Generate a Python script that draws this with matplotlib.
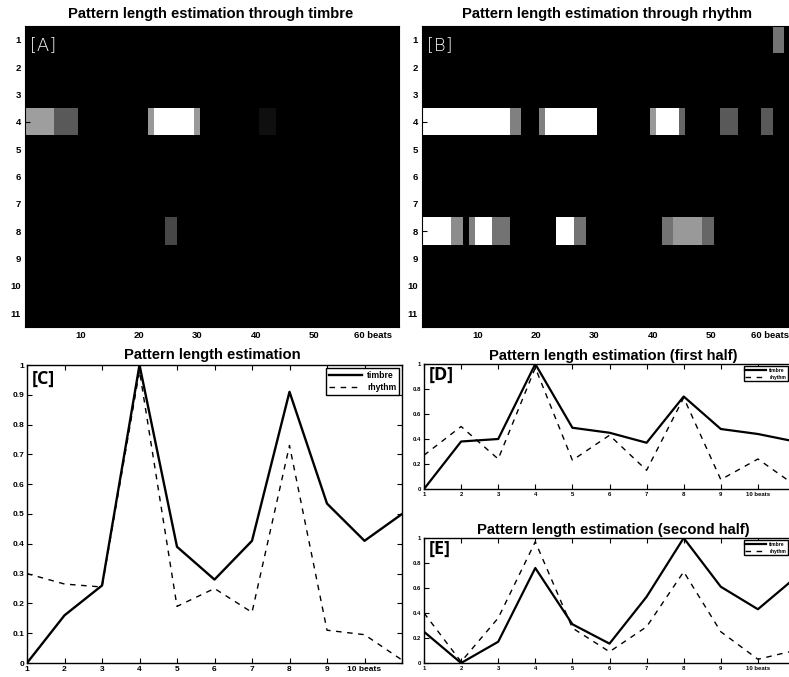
import numpy as np
import matplotlib
matplotlib.use("Agg")
import matplotlib.pyplot as plt

# ---------------------------------------------------------------- data
lags = [1, 2, 3, 4, 5, 6, 7, 8, 9, 10, 11]
lag_labels = ["1", "2", "3", "4", "5", "6", "7", "8", "9", "10 beats", ""]
n_beats = 64
beat_ticks = [10, 20, 30, 40, 50, 60]
beat_labels = ["10", "20", "30", "40", "50", "60 beats"]

# local pattern-length strength: (lag, first beat, last beat, strength)
timbre_blocks = [
    (4, 1, 5, 0.62), (4, 6, 9, 0.35),
    (4, 22, 22, 0.6), (4, 23, 29, 1.0), (4, 30, 30, 0.6),
    (4, 41, 43, 0.06),
    (8, 25, 26, 0.28),
]
rhythm_blocks = [
    (1, 61, 62, 0.45),
    (4, 1, 15, 1.0), (4, 16, 17, 0.5),
    (4, 21, 21, 0.5), (4, 22, 30, 1.0),
    (4, 40, 40, 0.6), (4, 41, 44, 1.0), (4, 45, 45, 0.4),
    (4, 52, 54, 0.35), (4, 59, 60, 0.35),
    (8, 1, 5, 1.0), (8, 6, 7, 0.55),
    (8, 9, 9, 0.5), (8, 10, 12, 1.0), (8, 13, 15, 0.45),
    (8, 24, 26, 1.0), (8, 27, 28, 0.45),
    (8, 42, 43, 0.45), (8, 44, 48, 0.6), (8, 49, 50, 0.4),
]

full_timbre = [0.0, 0.16, 0.26, 1.0, 0.39, 0.28, 0.41, 0.91, 0.535, 0.41, 0.50]
full_rhythm = [0.30, 0.265, 0.255, 0.98, 0.19, 0.25, 0.17, 0.73, 0.11, 0.095, 0.01]
first_timbre = [0.0, 0.38, 0.40, 1.0, 0.49, 0.45, 0.37, 0.74, 0.48, 0.44, 0.38]
first_rhythm = [0.27, 0.50, 0.24, 0.97, 0.23, 0.43, 0.15, 0.73, 0.075, 0.24, 0.03]
second_timbre = [0.25, 0.0, 0.17, 0.76, 0.31, 0.155, 0.53, 1.0, 0.61, 0.43, 0.68]
second_rhythm = [0.40, 0.01, 0.36, 0.97, 0.28, 0.09, 0.29, 0.73, 0.25, 0.03, 0.10]

# ---------------------------------------------------------------- figure
W, H = 789, 677
fig = plt.figure(figsize=(W / 100, H / 100), dpi=100)
FONT = "Liberation Sans"
plt.rcParams["font.family"] = [FONT, "DejaVu Sans"]


def px_axes(x0, y0, x1, y1, z=0):
    ax = fig.add_axes([x0 / W, 1 - y1 / H, (x1 - x0) / W, (y1 - y0) / H])
    ax.set_zorder(z)
    return ax


def block_matrix(blocks):
    m = np.zeros((len(lags), n_beats))
    for lag, b0, b1, v in blocks:
        m[lag - 1, b0 - 1:b1] = v
    return m


def matlab_ticks(ax, size, length=3.5):
    ax.tick_params(direction="in", top=True, right=True, length=length,
                   width=0.8, labelsize=size, pad=2)
    for lab in ax.get_xticklabels() + ax.get_yticklabels():
        lab.set_fontweight("bold")


def heatmap(ax, blocks, title, tag, title_x):
    ax.imshow(block_matrix(blocks), cmap="gray", vmin=0, vmax=1,
              aspect="auto", interpolation="nearest",
              extent=(0.5, n_beats + 0.5, len(lags) + 0.5, 0.5))
    ax.set_xlim(0.5, n_beats + 0.5)
    ax.set_ylim(len(lags) + 0.5, 0.5)
    ax.set_xticks(beat_ticks, beat_labels)
    ax.set_yticks(lags, [str(v) for v in lags])
    matlab_ticks(ax, 6.8)
    ax.tick_params(pad=3)
    ax.text(title_x, 1.015, title, transform=ax.transAxes, ha="center",
            va="bottom", fontsize=10.6, fontweight="bold")
    ax.text(0.013, 0.965, tag, transform=ax.transAxes, ha="left", va="top",
            color="white", fontsize=13, family="DejaVu Sans",
            fontweight="light")


def curves(ax, timbre, rhythm, title, tag, tick_size, tag_size, leg_size,
           title_x, handle_len, lw_t, lw_r, leg_anchor, leg_pad):
    ax.plot(lags, timbre, color="black", lw=lw_t, label="timbre")
    ax.plot(lags, rhythm, color="black", lw=lw_r, ls=(0, (4, 4)),
            label="rhythm")
    ax.set_xlim(1, 11)
    ax.set_ylim(0, 1)
    ax.set_xticks(lags, lag_labels)
    matlab_ticks(ax, tick_size)
    ax.text(title_x, 1.01, title, transform=ax.transAxes, ha="center",
            va="bottom", fontsize=10.6, fontweight="bold")
    ax.text(0.012, 0.985, tag, transform=ax.transAxes, ha="left", va="top",
            fontsize=tag_size, fontweight="bold", family="Open Sans")
    leg = ax.legend(loc="upper right", bbox_to_anchor=leg_anchor,
                    borderaxespad=leg_pad, frameon=True,
                    fancybox=False, edgecolor="black", framealpha=1,
                    handlelength=handle_len, borderpad=0.35,
                    labelspacing=0.4, handletextpad=0.6,
                    prop={"size": leg_size, "weight": "bold"})
    leg.get_frame().set_linewidth(1.0)
    for s in ax.spines.values():
        s.set_linewidth(1.0)
    return leg


# top row: beat-wise pattern length maps
ax_a = px_axes(25, 26, 399, 327)
heatmap(ax_a, timbre_blocks, "Pattern length estimation through timbre",
        "[A]", 0.495)
ax_b = px_axes(422, 26, 796, 327, z=2)
heatmap(ax_b, rhythm_blocks, "Pattern length estimation through rhythm",
        "[B]", 0.495)

# bottom left: whole piece
ax_c = px_axes(27, 365, 402, 663)
curves(ax_c, full_timbre, full_rhythm, "Pattern length estimation", "[C]",
       6.0, 13, 6.2, 0.495, 3.8, 1.7, 1.0, (1.0, 1.0), 0.3)
ax_c.set_yticks(np.arange(0, 1.01, 0.1),
                ["0"] + [f"{v:.1f}" for v in np.arange(0.1, 0.95, 0.1)] + ["1"])
for lab in ax_c.get_yticklabels():
    lab.set_fontweight("bold")

# bottom right: halves (the panels run past the right edge of the sheet)
leg_right = (W - 1 - 424) / (795 - 424)
ax_d = px_axes(424, 364, 795, 489, z=2)
curves(ax_d, first_timbre, first_rhythm,
       "Pattern length estimation (first half)", "[D]",
       4.3, 13, 3.6, 0.51, 4.2, 1.6, 1.0, (leg_right, 0.985), 0.0)
ax_e = px_axes(424, 538, 795, 663, z=2)
curves(ax_e, second_timbre, second_rhythm,
       "Pattern length estimation (second half)", "[E]",
       4.3, 13, 3.6, 0.51, 4.2, 1.6, 1.0, (leg_right, 0.985), 0.0)
for ax in (ax_d, ax_e):
    ax.set_yticks([0, 0.2, 0.4, 0.6, 0.8, 1.0],
                  ["0", "0.2", "0.4", "0.6", "0.8", "1"])
    for lab in ax.get_yticklabels():
        lab.set_fontweight("bold")

fig.savefig("out.png", dpi=100)
